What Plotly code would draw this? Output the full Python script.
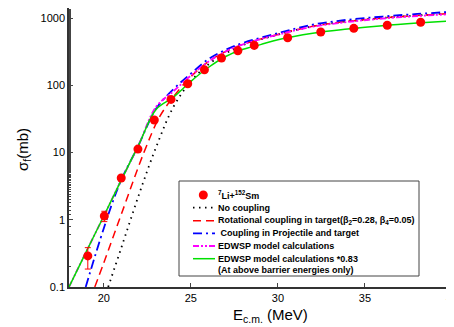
import plotly.graph_objects as go

# Experimental data
E_exp = [19.08, 20.03, 21.0, 21.96, 22.9, 23.86, 24.82, 25.78, 26.76, 27.7, 28.64,
         30.56, 32.46, 34.36, 36.28, 38.2]
sig_exp = [0.29, 1.14, 4.2, 11.3, 30.6, 62, 106, 171, 256, 328, 395,
           513, 624, 708, 787, 872]
err_plus = [0.095, 0.2, 0, 0, 0, 0, 0, 0, 0, 0, 0, 0, 0, 0, 0, 0]
err_minus = [0.105, 0.2, 0, 0, 0, 0, 0, 0, 0, 0, 0, 0, 0, 0, 0, 0]

# No coupling
E_nc = [20.25, 21, 22, 23, 24, 25, 26, 27, 28, 30, 32, 34, 36, 38, 40]
sig_nc = [0.1, 0.38, 2.3, 12, 48, 115, 205, 300, 400, 570, 760, 900, 1010, 1100, 1180]

# Rotational coupling in target
E_rot = [19.48, 20, 21, 22.3, 23.2, 24, 25, 26, 27, 28, 30, 32, 34, 36, 38, 40]
sig_rot = [0.1, 0.23, 1.2, 10, 34, 68, 135, 225, 320, 410, 575, 760, 900, 1010, 1100, 1180]

# Coupling in projectile and target
E_pt = [18.96, 20, 20.92, 22, 23, 24, 25, 26, 27, 28, 30, 32, 34, 36, 38, 40]
sig_pt = [0.1, 0.75, 3.5, 13, 45, 88, 150, 245, 340, 430, 600, 805, 950, 1060, 1160, 1250]

# EDWSP model
E_ed = [18, 19, 20, 21, 22, 23, 24, 25, 26, 27, 28, 30, 32, 34, 36, 38, 40]
sig_ed = [0.1, 0.34, 1.14, 3.9, 13, 48, 82, 140, 225, 320, 410, 570, 750, 880, 990, 1080, 1153]

# EDWSP * 0.83
E_ed83 = [18, 19, 20, 21, 22, 23, 24, 25, 26, 27, 28, 29, 30, 32, 34, 36, 38, 40]
sig_ed83 = [0.1, 0.34, 1.14, 3.9, 13, 44, 67, 115, 185, 270, 345, 405, 480, 600, 690, 775, 850, 918]

x_ticks = [20, 25, 30, 35, 40]
y_ticks = [0.1, 1, 10, 100, 1000]
y_ticklabels = ["0.1", "1", "10", "100", "1000"]

legend_labels = [
    "<sup>7</sup>Li+<sup>152</sup>Sm",
    "No coupling",
    "Rotational coupling in target(β<sub>2</sub>=0.28, β<sub>4</sub>=0.05)",
    " Coupling in Projectile and target",
    "EDWSP model calculations",
    "EDWSP model calculations *0.83",
    "(At above barrier energies only)",
]

RED = "#ff0000"
BLUE = "#0000ff"
MAG = "#ff00ff"
GREEN = "#00e000"
DOT = "1.5px,4.5px"
DASH = "8px,5px"
DASHDOT = "9px,4px,2px,4px"
DASHDOTDOT = "6px,2px,2px,2px,2px,2px"

styles = [
    None,
    dict(color="black", dash=DOT, width=1.8),
    dict(color=RED, dash=DASH, width=1.5),
    dict(color=BLUE, dash=DASHDOT, width=1.8),
    dict(color=MAG, dash=DASHDOTDOT, width=1.8),
    dict(color=GREEN, width=1.5),
]

fig = go.Figure()
curves = [(E_nc, sig_nc), (E_rot, sig_rot), (E_pt, sig_pt), (E_ed, sig_ed), (E_ed83, sig_ed83)]
for i, (ex, sy) in enumerate(curves, start=1):
    st = dict(styles[i])
    st["shape"] = "spline"
    fig.add_trace(go.Scatter(x=ex, y=sy, mode="lines", name=legend_labels[i],
                             line=st, showlegend=False))

fig.add_trace(go.Scatter(x=E_exp, y=sig_exp, mode="markers", name=legend_labels[0],
                         marker=dict(color=RED, size=9), showlegend=False,
                         error_y=dict(type="data", symmetric=False, array=err_plus,
                                      arrayminus=err_minus, color=RED,
                                      thickness=1, width=3)))

# The page body has an 8px margin, so the figure is drawn 8px right/down.
OFF = 8
W, H = 454 - OFF, 327 - OFF
# target plot area in window pixels
PL, PR, PT, PB = 69, 452, 8, 287


def px(x):
    return (x - PL) / (PR - PL)


def py(y):
    return (PB - y) / (PB - PT)


shapes = [dict(type="rect", xref="paper", yref="paper",
               x0=px(179), x1=px(419), y0=py(276), y1=py(181),
               line=dict(color="#444", width=1), fillcolor="white", layer="above")]
annotations = []
entry_y = [195, 207.7, 220.7, 233.3, 246, 258.7, 269.8]
for i, lab in enumerate(legend_labels):
    yy = entry_y[i]
    if i == 0:
        shapes.append(dict(type="circle", xref="paper", yref="paper",
                           x0=px(203.3 - 4.5), x1=px(203.3 + 4.5),
                           y0=py(yy + 4.5), y1=py(yy - 4.5),
                           fillcolor=RED, line=dict(color=RED, width=0), layer="above"))
    elif i <= 5:
        st = styles[i]
        shapes.append(dict(type="line", xref="paper", yref="paper",
                           x0=px(193), x1=px(215), y0=py(yy), y1=py(yy),
                           line=dict(color=st["color"], width=st["width"],
                                     dash=st.get("dash", "solid")), layer="above"))
    annotations.append(dict(text="<b>" + lab + "</b>", xref="paper", yref="paper",
                            x=px(216), y=py(yy), xanchor="left", yanchor="middle",
                            showarrow=False,
                            font=dict(size=9, family="Liberation Sans, Arial", color="black")))

# axis titles
annotations.append(dict(text="E<sub>c.m.</sub> (MeV)", xref="paper", yref="paper",
                        x=px(270), y=py(315), xanchor="center", yanchor="middle",
                        showarrow=False, font=dict(size=15, family="Liberation Sans, Arial")))
annotations.append(dict(text="σ<sub>f</sub>(mb)", xref="paper", yref="paper",
                        x=px(24), y=py(150), xanchor="center", yanchor="middle",
                        textangle=-90, showarrow=False,
                        font=dict(size=15, family="Liberation Sans, Arial")))

fig.update_layout(
    width=W, height=H,
    margin=dict(l=PL - OFF, r=454 - PR, t=PT - OFF, b=327 - PB, pad=0),
    paper_bgcolor="white", plot_bgcolor="white",
    font=dict(family="Liberation Sans, Arial", size=11, color="black"),
    showlegend=False,
    shapes=shapes,
    annotations=annotations,
)
fig.update_xaxes(range=[18, 40], tickvals=x_ticks, ticks="inside", ticklen=4,
                 ticklabeloverflow="allow", automargin=False,
                 showline=True, linecolor="#333", linewidth=1.5, mirror=True,
                 showgrid=False, zeroline=False)
fig.update_yaxes(type="log", range=[-1, 3.153], tickvals=y_ticks, ticktext=y_ticklabels,
                 ticks="inside", ticklen=4, automargin=False,
                 minor=dict(ticks="inside", ticklen=2, showgrid=False),
                 showline=True, linecolor="#333", linewidth=1.5, mirror=True,
                 showgrid=False, zeroline=False)

fig.write_html("out.html")
